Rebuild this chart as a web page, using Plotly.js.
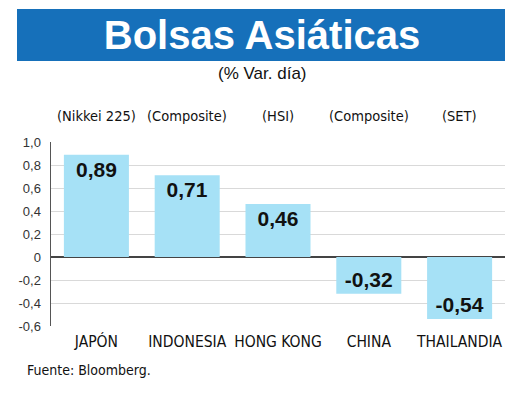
<!DOCTYPE html>
<html>
<head>
<meta charset="utf-8">
<script src="https://cdn.plot.ly/plotly-3.0.1.min.js"></script>
<style>html,body{margin:0;padding:0;background:#fff;}#chart{width:520px;height:395px;}</style>
</head>
<body>
<div id="chart"></div>
<script>
const countries = ["JAPÓN", "INDONESIA", "HONG KONG", "CHINA", "THAILANDIA"];
const indices = ["(Nikkei 225)", "(Composite)", "(HSI)", "(Composite)", "(SET)"];
const values = [0.89, 0.71, 0.46, -0.32, -0.54];
const valueLabels = ["0,89", "0,71", "0,46", "-0,32", "-0,54"];
const yTickVals = [1.0, 0.8, 0.6, 0.4, 0.2, 0, -0.2, -0.4, -0.6];
const yTickText = ["1,0", "0,8", "0,6", "0,4", "0,2", "0", "-0,2", "-0,4", "-0,6"];

const narrow = "DejaVu Sans Condensed, sans-serif";

const trace = {
  type: "bar",
  x: countries,
  y: values,
  text: valueLabels,
  textposition: "inside",
  insidetextanchor: "end",
  textangle: 0,
  constraintext: "none",
  textfont: {family: "Liberation Sans, Arial, sans-serif", size: 21, color: "#111", weight: "bold"},
  marker: {color: "#a6e1f6", line: {width: 0}},
  hoverinfo: "none",
  cliponaxis: false
};

const annotations = indices.map((t, i) => ({
  text: t, x: countries[i], xref: "x", y: 1.141, yref: "paper",
  showarrow: false, xanchor: "center", yanchor: "middle",
  font: {family: narrow, size: 14.5, color: "#111"}
}));
annotations.push({
  text: "(% Var. día)", x: (262-51)/454, xref: "paper", y: (326-73)/184, yref: "paper",
  showarrow: false, xanchor: "center", yanchor: "middle",
  font: {family: "Liberation Sans, Arial, sans-serif", size: 17, color: "#111"}
});
annotations.push({
  text: "Fuente: Bloomberg.", x: (25-51)/454, xref: "paper", y: (326-370)/184, yref: "paper",
  showarrow: false, xanchor: "left", yanchor: "middle",
  font: {family: narrow, size: 14, color: "#111"}
});

const layout = {
  width: 520, height: 395,
  margin: {l: 51, r: 15, t: 142, b: 69, pad: 0},
  paper_bgcolor: "#fff", plot_bgcolor: "#fff",
  separators: ",.",
  showlegend: false,
  bargap: 0.284,
  title: {
    text: "<b>Bolsas Asiáticas</b>",
    x: 262/520, xanchor: "center", xref: "container",
    y: 1 - 35/395, yanchor: "middle", yref: "container",
    font: {family: "Liberation Sans, Arial, sans-serif", size: 40, color: "#fff"}
  },
  xaxis: {
    showgrid: false, showline: false, ticks: "", zeroline: false,
    tickfont: {family: narrow, size: 15.5, color: "#111"},
    ticklabelstandoff: 4
  },
  yaxis: {
    range: [-0.6, 1.0], tickvals: yTickVals, ticktext: yTickText,
    showgrid: true, gridcolor: "#d9d9d9", gridwidth: 1,
    zeroline: true, zerolinecolor: "#444", zerolinewidth: 1.5,
    showline: true, linecolor: "#555", linewidth: 1.5,
    ticks: "", ticklabelstandoff: 6,
    tickfont: {family: "Liberation Sans, Arial, sans-serif", size: 13, color: "#333"},
    fixedrange: true
  },
  shapes: [{
    type: "rect", xref: "paper", yref: "paper",
    x0: (17-51)/454, x1: (505-51)/454, y0: (326-61)/184, y1: (326-9)/184,
    fillcolor: "#1670ba", line: {width: 0}, layer: "below"
  }],
  annotations: annotations
};

Plotly.newPlot("chart", [trace], layout, {staticPlot: true, displayModeBar: false});
</script>
</body>
</html>
